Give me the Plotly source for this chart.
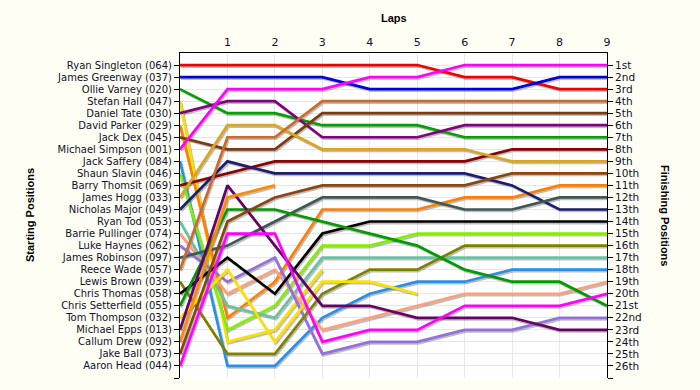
import plotly.graph_objects as go

# Drivers in starting order (grid position 1..26)
drivers = ["Ryan Singleton (064)", "James Greenway (037)", "Ollie Varney (020)", "Stefan Hall (047)",
           "Daniel Tate (030)", "David Parker (029)", "Jack Dex (045)", "Michael Simpson (001)",
           "Jack Saffery (084)", "Shaun Slavin (046)", "Barry Thomsit (069)", "James Hogg (033)",
           "Nicholas Major (049)", "Ryan Tod (053)", "Barrie Pullinger (074)", "Luke Haynes (062)",
           "James Robinson (097)", "Reece Wade (057)", "Lewis Brown (039)", "Chris Thomas (058)",
           "Chris Setterfield (055)", "Tom Thompson (032)", "Michael Epps (013)", "Callum Drew (092)",
           "Jake Ball (073)", "Aaron Head (044)"]

colors = ["#EE0000", "#0000DD", "#00A000", "#F5E000", "#800080", "#FF8000", "#7B3A10", "#FF00FF",
          "#2A8FE8", "#80F000", "#8B0000", "#DAA520", "#1E1E6E", "#66C4A4", "#FFA07A", "#9370DB",
          "#3F5757", "#CC6A2C", "#808000", "#000000", "#009A00", "#FFE000", "#660066", "#FF8C00",
          "#8B4513", "#FF00FF"]

laps = [0, 1, 2, 3, 4, 5, 6, 7, 8, 9]
lap_ticks = ["1", "2", "3", "4", "5", "6", "7", "8", "9"]

# Position of each driver (in starting order) at the end of each lap; None = retired
lap_0 = list(range(1, 27))
lap_1 = [1, 2, 5, 24, 4, 22, 8, 3, 26, 23, 10, 6, 9, 21, 20, 19, 16, 7, 25, 17, 13, 18, 11, 12, 14, 15]
lap_2 = [1, 2, 5, 23, 4, 19, 8, 3, 26, 21, 9, 6, 10, 22, 18, 17, 14, 7, 25, 20, 13, 24, 16, 11, 12, 15]
lap_3 = [1, 2, 6, 18, 7, 13, 5, 3, 22, 16, 9, 8, 10, 17, 23, 25, 12, 4, 20, 15, 14, 19, 21, None, 11, 24]
lap_4 = [1, 3, 6, None, 7, 13, 5, 2, 20, 16, 9, 8, 10, 17, 22, 24, 12, 4, 18, 14, 15, 19, 21, None, 11, 23]
lap_5 = [1, 3, 6, None, 7, 13, 5, 2, 19, 15, 9, 8, 10, 17, 21, 24, 12, 4, 18, 14, 16, 20, 22, None, 11, 23]
lap_6 = [2, 3, 7, None, 6, 12, 5, 1, 19, 15, 9, 8, 10, 17, 20, 23, 13, 4, 16, 14, 18, None, 22, None, 11, 21]
lap_7 = [2, 3, 7, None, 6, 12, 5, 1, 18, 15, 8, 9, 11, 17, 20, 23, 13, 4, 16, 14, 19, None, 22, None, 10, 21]
lap_8 = [3, 2, 7, None, 6, 11, 5, 1, 18, 15, 8, 9, 13, 17, 20, 22, 12, 4, 16, 14, 19, None, 23, None, 10, 21]
lap_9 = [3, 2, 7, None, 6, 11, 5, 1, 18, 15, 8, 9, 13, 17, 19, 22, 12, 4, 16, 14, 21, None, 23, None, 10, 20]

finish_labels = ["1st", "2nd", "3rd", "4th", "5th", "6th", "7th", "8th", "9th", "10th", "11th", "12th",
                 "13th", "14th", "15th", "16th", "17th", "18th", "19th", "20th", "21st", "22nd", "23rd",
                 "24th", "25th", "26th"]

all_laps = [lap_0, lap_1, lap_2, lap_3, lap_4, lap_5, lap_6, lap_7, lap_8, lap_9]
n = len(drivers)

fig = go.Figure()

# drop shadows
for i in range(n):
    ys = [lp[i] for lp in all_laps]
    fig.add_trace(go.Scatter(
        x=[v + 0.025 for v in laps], y=[None if v is None else v + 0.13 for v in ys],
        mode="lines", line=dict(color="rgba(70,70,70,0.35)", width=2.6),
        hoverinfo="skip", showlegend=False))

for i in range(n):
    ys = [lp[i] for lp in all_laps]
    fig.add_trace(go.Scatter(
        x=laps, y=ys, mode="lines", name=drivers[i],
        line=dict(color=colors[i], width=2.7), showlegend=False))

# dummy trace for right axis
fig.add_trace(go.Scatter(x=[0], y=[1], yaxis="y2", mode="markers",
                         marker=dict(opacity=0), hoverinfo="skip", showlegend=False))

tick_font = dict(family="DejaVu Sans", size=10, color="#10102a")
rng = [27, 0]

L, R, T, B = 180, 93, 53, 12
pw, ph = 700 - L - R, 390 - T - B

fig.update_layout(
    width=700, height=390,
    margin=dict(l=L, r=R, t=T, b=B, autoexpand=False),
    paper_bgcolor="#FEFEF4",
    plot_bgcolor="#FFFFFF",
    xaxis=dict(range=[0, 9], side="top", tickmode="array", tickvals=laps[1:], ticktext=lap_ticks,
               showgrid=True, gridcolor="#E6E6E6", gridwidth=1, showline=True, linecolor="black",
               linewidth=1, ticks="outside", ticklen=2, tickcolor="rgba(0,0,0,0)", zeroline=False,
               automargin=False,
               tickfont=dict(family="DejaVu Sans", size=11, color="#10102a"), fixedrange=True),
    yaxis=dict(range=rng, tickmode="array", tickvals=list(range(1, 28)), ticktext=drivers + [""],
               ticks="outside", ticklen=5, tickcolor="black", showline=True, linecolor="black",
               linewidth=1, showgrid=True, gridcolor="#E6E6E6", gridwidth=1, zeroline=False,
               automargin=False, tickfont=tick_font, fixedrange=True),
    yaxis2=dict(range=rng, overlaying="y", side="right", anchor="x", tickmode="array",
                tickvals=list(range(1, 28)), ticktext=finish_labels + [""],
                ticks="outside", ticklen=5, tickcolor="black", showline=True, linecolor="black",
                linewidth=1, showgrid=False, zeroline=False, automargin=False,
                tickfont=dict(family="DejaVu Sans", size=10.5, color="#10102a"), fixedrange=True),
    annotations=[
        dict(text="<b>Laps</b>", x=0.5, xref="paper", y=1 + (T - 18) / ph, yref="paper",
             showarrow=False, xanchor="center", yanchor="middle",
             font=dict(family="Liberation Sans", size=11, color="black")),
        dict(text="<b>Starting Positions</b>", x=(30 - L) / pw, xref="paper",
             y=1 - (215 - T) / ph, yref="paper", textangle=-90, showarrow=False,
             xanchor="center", yanchor="middle",
             font=dict(family="Liberation Sans", size=11, color="black")),
        dict(text="<b>Finishing Positions</b>", x=(665 - L) / pw, xref="paper",
             y=1 - (215 - T) / ph, yref="paper", textangle=90, showarrow=False,
             xanchor="center", yanchor="middle",
             font=dict(family="Liberation Sans", size=11, color="black")),
    ],
)

fig.write_html("out.html", config={"displayModeBar": False},
               post_script="document.body.style.margin='0';document.body.style.background='#FEFEF4';")
